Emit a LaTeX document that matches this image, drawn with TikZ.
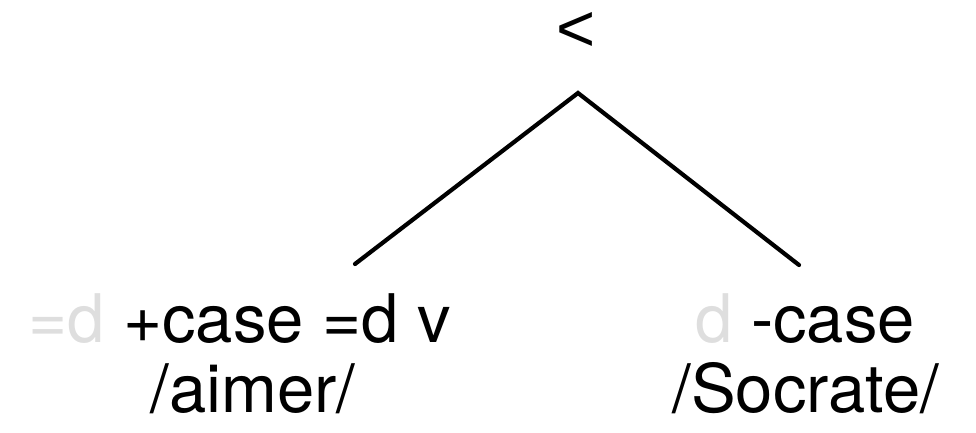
\documentclass[tikz,border=0pt]{standalone}
\usepackage{fontspec}
\setmainfont{TeX Gyre Heros}
\newfontfamily\opfont{Liberation Sans}
\usepackage{tikz}

\definecolor{checked}{gray}{0.87}

\tikzset{
  word/.style={inner sep=0pt, font=\fontsize{67}{80}\selectfont},
  branch/.style={line width=4.2pt, line cap=round, line join=miter}
}

\begin{document}
\begin{tikzpicture}[x=1pt,y=1pt]
        \useasboundingbox (0,0) rectangle (976,-432);
        % merge label and the two branches
        \node[word, font=\fontsize{67}{80}\opfont] (root) at (576,-32) {\symbol{"3C}};
        \coordinate (apex) at (578,-93);
        \coordinate (lfoot) at (355,-264);
        \coordinate (rfoot) at (799,-265);
        \draw[branch] (lfoot) -- (apex) -- (rfoot);
        % left leaf: the verb
        \node[word, anchor=base west] (lfeat) at (28,-342) {\textcolor{checked}{=d} +case =d v};
        \node[word, anchor=base] (lphon) at (253,-412) {/aimer/};
        % right leaf: the noun
        \node[word, anchor=base] (rfeat) at (805,-342) {\textcolor{checked}{d} -case};
        \node[word, anchor=base] (rphon) at (806,-412) {/Socrate/};
\end{tikzpicture}
\end{document}
